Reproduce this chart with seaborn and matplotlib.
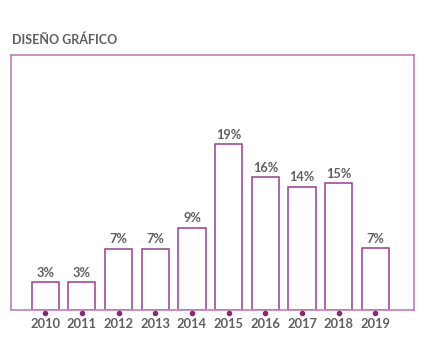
import numpy as np
import pandas as pd
import matplotlib.pyplot as plt
import seaborn as sns

# data
years = ["2010", "2011", "2012", "2013", "2014", "2015", "2016", "2017", "2018", "2019"]
heights = [3.2, 3.2, 7.0, 7.0, 9.4, 19.0, 15.2, 14.1, 14.5, 7.1]
labels = ["3%", "3%", "7%", "7%", "9%", "19%", "16%", "14%", "15%", "7%"]

df = pd.DataFrame({"year": years, "pct": heights})

sns.set_style("white")
plt.rcParams['font.family'] = ['Lato', 'DejaVu Sans']

purple = "#9b3d8c"
frame = "#c27fb5"
grey = "#5f5f5f"

fig = plt.figure(figsize=(4.25, 3.51), dpi=100)
ax = fig.add_axes([11 / 425, 1 - 310 / 351, 403 / 425, 255 / 351])

sns.barplot(data=df, x="year", y="pct", ax=ax, color="white",
            edgecolor=purple, linewidth=1.1, width=0.74)

for i, lab in enumerate(labels):
    ax.text(i, heights[i] + 0.4, lab, ha="center", va="bottom",
            fontsize=9.2, fontweight="bold", color=grey)

# small dots under each bar
ax.scatter(range(len(years)), [-0.012] * len(years), s=9, color="#8a2a6e",
           transform=ax.get_xaxis_transform(), clip_on=False, zorder=5)

ax.set_xlim(-0.93, 10.05)
ax.set_ylim(0, 29.2)
ax.set_yticks([])
ax.set_xlabel("")
ax.set_ylabel("")
ax.tick_params(axis="x", length=0, pad=6, labelsize=9.3, labelcolor=grey)
for t in ax.get_xticklabels():
    t.set_fontweight("bold")
for s in ax.spines.values():
    s.set_visible(True)
    s.set_color(frame)
    s.set_linewidth(1.2)

fig.text(12 / 425, 1 - 40 / 351, "DISEÑO GRÁFICO", fontsize=9, fontweight="bold",
         color=grey, va="center", ha="left")

fig.savefig("out.png", dpi=100, facecolor="white")
